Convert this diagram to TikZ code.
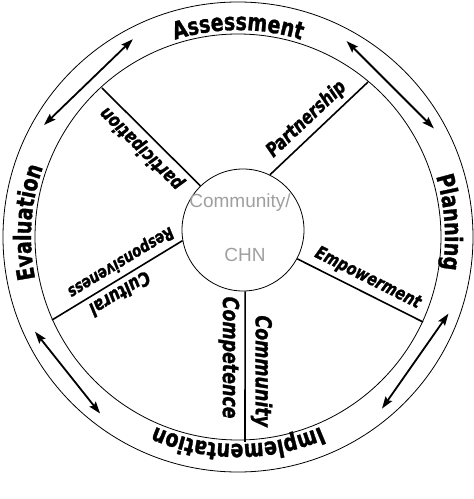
\documentclass[tikz,border=0pt]{standalone}
\usepackage{fontspec}
\usepackage{tikz}
\usetikzlibrary{arrows.meta,decorations.text}
\newfontfamily\wheelfont{DejaVu Sans Condensed}[FakeStretch=0.88,BoldFeatures={FakeBold=1.2},BoldItalicFeatures={FakeBold=1.2}]
\newfontfamily\hubfont{Liberation Sans}
\newcommand\ringfont{\wheelfont\bfseries\fontsize{24}{24}\selectfont}
\newcommand\spokefont[1]{\wheelfont\bfseries\itshape\fontsize{#1}{#1}\selectfont}

\begin{document}
\begin{tikzpicture}[x=1pt,y=1pt]
  \tikzstyle{every node}=[inner sep=2pt]
  \tikzstyle{ring}=[line width=0.8pt]
  \tikzstyle{spoke}=[line width=1.6pt]
  \tikzstyle{phase}=[line width=1.8pt,{Stealth[length=12pt,width=8pt,inset=2pt]}-{Stealth[length=12pt,width=8pt,inset=2pt]}]
  \tikzstyle{lbl}=[sloped,allow upside down]
  \tikzstyle{arcword}=[decorate,decoration={text along path,text align=center,text={#1}}]
  \tikzstyle{hubtext}=[font=\hubfont\fontsize{19}{19}\selectfont,text=gray!75]

  \useasboundingbox (0,0) rectangle (474,499);

  \coordinate (ctr) at (238,262);
  \draw[ring] (ctr) circle[radius=235];
  \draw[ring] (ctr) circle[radius=203];

  \node[draw,circle,ring,minimum size=122pt,inner sep=0pt] (hub) at (243,269) {};
  \node[hubtext] (hubtop) at (240,296) {Community/};
  \node[hubtext] (hubbot) at (245,244) {CHN};

  \coordinate (rimP) at (368,417);
  \coordinate (rimQ) at (102,411);
  \coordinate (rimR) at (52,179);
  \coordinate (rimC) at (245,57);
  \coordinate (rimE) at (423,177);

  \draw[spoke] (hub.64)  -- node[lbl,above=3pt,pos=0.48,font=\spokefont{19.5}] (partner) {Partnership} (rimP);
  \draw[spoke] (hub.134) -- node[lbl,above=3pt,pos=0.49,font=\spokefont{19}] (particip) {participation} (rimQ);
  \draw[spoke] (hub.190) -- node[lbl,above=3pt,pos=0.53,font=\spokefont{19}] (cultural) {Cultural}
                            node[lbl,below=3pt,pos=0.42,font=\spokefont{17}] (respons) {Responsiveness} (rimR);
  \draw[spoke] (hub.272) -- node[lbl,above=3pt,pos=0.53,font=\spokefont{22}] (commun) {Community}
                            node[lbl,below=3pt,pos=0.44,font=\spokefont{22}] (compet) {Competence} (rimC);
  \draw[spoke] (hub.332) -- node[lbl,above=3pt,pos=0.51,font=\spokefont{18}] (empower) {Empowerment} (rimE);

  \coordinate (tl1) at ([shift={(150:224)}]ctr);
  \coordinate (tl2) at ([shift={(118:224)}]ctr);
  \coordinate (tr1) at ([shift={(61:224)}]ctr);
  \coordinate (tr2) at ([shift={(29:224)}]ctr);
  \coordinate (br1) at ([shift={(340:224)}]ctr);
  \coordinate (br2) at ([shift={(310:224)}]ctr);
  \coordinate (bl1) at ([shift={(205:224)}]ctr);
  \coordinate (bl2) at ([shift={(232:224)}]ctr);

  \draw[phase] (tl1) -- (tl2);
  \draw[phase] (tr1) -- (tr2);
  \draw[phase] (br1) -- (br2);
  \draw[phase] (bl1) -- (bl2);

  \path[arcword={|\ringfont|Assessment}]     ([shift={(130:207)}]ctr) arc[start angle=130,end angle=50,radius=207];
  \path[arcword={|\ringfont|Planning}]       ([shift={(44:207)}]ctr)  arc[start angle=44,end angle=-36,radius=207];
  \path[arcword={|\ringfont|Implementation}] ([shift={(320:207)}]ctr) arc[start angle=320,end angle=220,radius=207];
  \path[arcword={|\ringfont|Evaluation}]     ([shift={(216:207)}]ctr) arc[start angle=216,end angle=136,radius=207];
\end{tikzpicture}
\end{document}
